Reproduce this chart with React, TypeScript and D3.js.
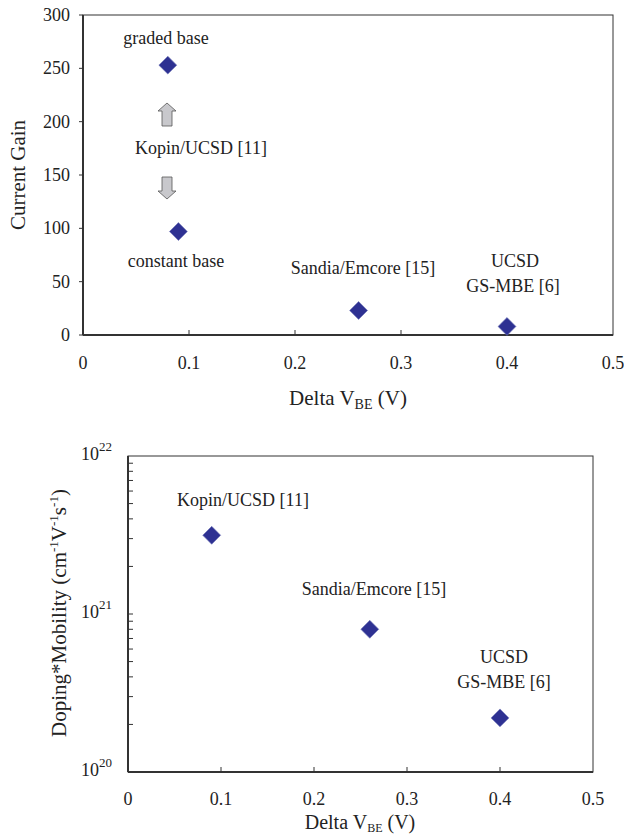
import React from "react";
import * as d3 from "d3";

const topLabels = ["graded base", "constant base", "Sandia/Emcore [15]", "UCSD GS-MBE [6]"];
const topX = [0.08, 0.09, 0.26, 0.4];
const topY = [253, 97, 23, 8];

const botLabels = ["Kopin/UCSD [11]", "Sandia/Emcore [15]", "UCSD GS-MBE [6]"];
const botX = [0.09, 0.26, 0.4];
const botY = [3.15e21, 8.0e20, 2.2e20];

const xTicks = [0, 0.1, 0.2, 0.3, 0.4, 0.5];
const topYTicks = [0, 50, 100, 150, 200, 250, 300];
const botYExps = [20, 21, 22];

const FONT = "Liberation Serif, Times New Roman, Times, DejaVu Serif, serif";
const PT_FILL = "#2e3192";
const PT_STROKE = "#7076b8";

function Diamond({ cx, cy }: { cx: number; cy: number }) {
  const path = d3.symbol(d3.symbolSquare, 160)();
  return (
    <path
      d={path || ""}
      transform={`translate(${cx},${cy}) rotate(45)`}
      fill={PT_FILL}
      stroke={PT_STROKE}
      strokeWidth={0.6}
    />
  );
}

function UpArrow({ x, yTip, yBot }: { x: number; yTip: number; yBot: number }) {
  const hw = 9, sw = 5, hh = 8;
  const d = `M${x},${yTip} L${x + hw},${yTip + hh} L${x + sw},${yTip + hh} L${x + sw},${yBot} L${x - sw},${yBot} L${x - sw},${yTip + hh} L${x - hw},${yTip + hh} Z`;
  return <path d={d} fill="#c8c8cc" stroke="#555" strokeWidth={0.8} />;
}

function DownArrow({ x, yTop, yTip }: { x: number; yTop: number; yTip: number }) {
  const hw = 9, sw = 5, hh = 8;
  const d = `M${x},${yTip} L${x + hw},${yTip - hh} L${x + sw},${yTip - hh} L${x + sw},${yTop} L${x - sw},${yTop} L${x - sw},${yTip - hh} L${x - hw},${yTip - hh} Z`;
  return <path d={d} fill="#c8c8cc" stroke="#555" strokeWidth={0.8} />;
}

export default function App() {
  const tx = d3.scaleLinear().domain([0, 0.5]).range([83, 613]);
  const ty = d3.scaleLinear().domain([0, 300]).range([335, 15]);
  const bx = d3.scaleLinear().domain([0, 0.5]).range([128, 593]);
  const by = d3.scaleLog().domain([1e20, 1e22]).range([772, 456]);

  const minor: number[] = [];
  [20, 21].forEach((e) => {
    for (let m = 2; m <= 9; m++) minor.push(m * Math.pow(10, e));
  });

  const tk = { fontFamily: FONT, fontSize: 18, fill: "#222" } as const;
  const ann = { fontFamily: FONT, fontSize: 18, fill: "#222" } as const;
  const ttl = { fontFamily: FONT, fontSize: 21, fill: "#222" } as const;

  return (
    <svg width={624} height={835} style={{ position: "absolute", left: 0, top: 0, background: "#fff" }}>
      <rect width={624} height={835} fill="#fff" />
      {/* ===== TOP CHART ===== */}
      <g>
        <rect x={tx(0)} y={ty(300)} width={tx(0.5) - tx(0)} height={ty(0) - ty(300)} fill="none" stroke="#333" strokeWidth={1} />
        <line x1={tx(0)} x2={tx(0.5)} y1={ty(0)} y2={ty(0)} stroke="#333" strokeWidth={2} />
        <line x1={tx(0)} x2={tx(0)} y1={ty(0)} y2={ty(300)} stroke="#333" strokeWidth={2} />
        {xTicks.slice(1, -1).map((t) => (
          <line key={"txt" + t} x1={tx(t)} x2={tx(t)} y1={ty(0)} y2={ty(0) - 5} stroke="#333" strokeWidth={1} />
        ))}
        {xTicks.map((t) => (
          <text key={"txl" + t} x={tx(t)} y={369} textAnchor="middle" {...tk}>
            {t === 0 ? "0" : d3.format(".1f")(t)}
          </text>
        ))}
        {topYTicks.map((t) => (
          <g key={"ty" + t}>
            <line x1={tx(0) - 4} x2={tx(0)} y1={ty(t)} y2={ty(t)} stroke="#333" strokeWidth={1} />
            <text x={70} y={ty(t) + 6} textAnchor="end" {...tk}>{t}</text>
          </g>
        ))}
        <text x={348} y={405} textAnchor="middle" {...ttl}>
          Delta V<tspan fontSize={14} dy={4}>BE</tspan><tspan dy={-4}> (V)</tspan>
        </text>
        <text transform={`translate(25,175) rotate(-90)`} textAnchor="middle" {...ttl}>
          Current Gain
        </text>
        <UpArrow x={167} yTip={103} yBot={126} />
        <DownArrow x={167} yTop={177} yTip={199} />
        <text x={166} y={44} textAnchor="middle" {...ann}>graded  base</text>
        <text x={201} y={154} textAnchor="middle" {...ann}>Kopin/UCSD [11]</text>
        <text x={176} y={267} textAnchor="middle" {...ann}>constant base</text>
        <text x={363} y={274} textAnchor="middle" {...ann}>Sandia/Emcore [15]</text>
        <text x={515} y={267} textAnchor="middle" {...ann}>UCSD</text>
        <text x={513} y={292} textAnchor="middle" {...ann}>GS-MBE [6]</text>
        {topX.map((x, i) => (
          <Diamond key={"tp" + i} cx={tx(x)} cy={ty(topY[i])} />
        ))}
      </g>

      {/* ===== BOTTOM CHART ===== */}
      <g>
        <rect x={bx(0)} y={by(1e22)} width={bx(0.5) - bx(0)} height={by(1e20) - by(1e22)} fill="none" stroke="#333" strokeWidth={1} />
        <line x1={bx(0)} x2={bx(0.5)} y1={by(1e20)} y2={by(1e20)} stroke="#333" strokeWidth={2} />
        <line x1={bx(0)} x2={bx(0)} y1={by(1e20)} y2={by(1e22)} stroke="#333" strokeWidth={2} />
        {xTicks.slice(1, -1).map((t) => (
          <line key={"bxt" + t} x1={bx(t)} x2={bx(t)} y1={by(1e20)} y2={by(1e20) - 5} stroke="#333" strokeWidth={1} />
        ))}
        {xTicks.map((t) => (
          <text key={"bxl" + t} x={bx(t)} y={805} textAnchor="middle" {...tk}>
            {t === 0 ? "0" : d3.format(".1f")(t)}
          </text>
        ))}
        {minor.concat([1e21]).map((v, i) => (
          <line key={"bm" + i} x1={bx(0)} x2={bx(0) + 5} y1={by(v)} y2={by(v)} stroke="#333" strokeWidth={1} />
        ))}
        {botYExps.map((e) => (
          <text key={"be" + e} x={99} y={by(Math.pow(10, e)) + 4} textAnchor="end" {...tk}>
            10
          </text>
        ))}
        {botYExps.map((e) => (
          <text key={"bs" + e} x={99} y={by(Math.pow(10, e)) - 5} textAnchor="start" fontFamily={FONT} fontSize={13} fill="#222">
            {e}
          </text>
        ))}
        <text x={360} y={829} textAnchor="middle" fontFamily={FONT} fontSize={20} fill="#222">
          Delta V<tspan fontSize={12} dy={3}>BE</tspan><tspan dy={-3}> (V)</tspan>
        </text>
        <text transform={`translate(66,613) rotate(-90)`} textAnchor="middle" {...ttl}>
          Doping*Mobility (cm<tspan fontSize={13} dy={-8}>-1</tspan><tspan dy={8}>V</tspan><tspan fontSize={13} dy={-8}>-1</tspan><tspan dy={8}>s</tspan><tspan fontSize={13} dy={-8}>-1</tspan><tspan dy={8}>)</tspan>
        </text>
        <text x={243} y={506} textAnchor="middle" {...ann}>Kopin/UCSD [11]</text>
        <text x={374} y={595} textAnchor="middle" {...ann}>Sandia/Emcore [15]</text>
        <text x={504} y={663} textAnchor="middle" {...ann}>UCSD</text>
        <text x={504} y={688} textAnchor="middle" {...ann}>GS-MBE [6]</text>
        {botX.map((x, i) => (
          <Diamond key={"bp" + i} cx={bx(x)} cy={by(botY[i])} />
        ))}
      </g>
    </svg>
  );
}
